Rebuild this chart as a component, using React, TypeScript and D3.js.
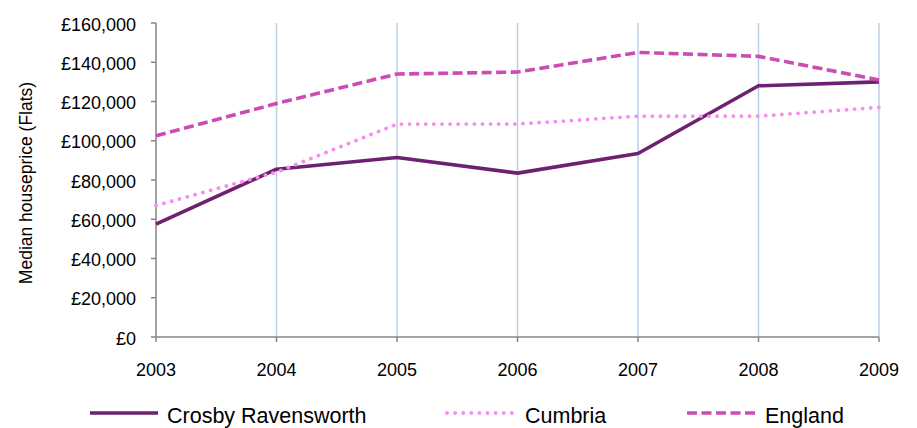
import React from "react";
import * as d3 from "d3";

const years = [2003, 2004, 2005, 2006, 2007, 2008, 2009];
const crosby = [57500, 85500, 91500, 83500, 93500, 128000, 130000];
const cumbria = [67000, 84000, 108500, 108500, 112500, 112500, 117000];
const england = [102500, 119000, 134000, 135000, 145000, 143000, 131000];
const yTicks = [0, 20000, 40000, 60000, 80000, 100000, 120000, 140000, 160000];

const series = [
  { name: "Crosby Ravensworth", values: crosby, color: "#6e2170", dash: "", cap: "butt", width: 3.6 },
  { name: "Cumbria", values: cumbria, color: "#f58ef0", dash: "0.1,8", cap: "round", width: 3.8 },
  { name: "England", values: england, color: "#cc4cb5", dash: "10,4.5", cap: "butt", width: 3.6 },
];

const W = 917;
const H = 428;
const left = 156;
const right = 879;
const top = 23;
const bottom = 337;

export default function App() {
  const x = d3.scaleLinear().domain([2003, 2009]).range([left, right]);
  const y = d3.scaleLinear().domain([0, 160000]).range([bottom, top]);
  const fmt = (v: number) => "£" + d3.format(",")(v);
  const line = (vals: number[]) =>
    d3.line<number>().x((_, i) => x(years[i])).y((d) => y(d))(vals) || "";
  const legendX = [90, 447, 687];
  const legendLen = [68, 68, 70];
  const legendText = [167, 525, 765];
  const font = "Liberation Sans, Arial, sans-serif";
  return (
    <svg width={W} height={H} style={{ position: "absolute", left: 0, top: 0, background: "#fff" }} fontFamily={font}>
      {years.slice(1).map((yr) => (
        <line key={yr} x1={x(yr)} x2={x(yr)} y1={top} y2={bottom} stroke="#b9cde5" strokeWidth={1.5} />
      ))}
      <line x1={left} x2={left} y1={top} y2={bottom} stroke="#868686" strokeWidth={1.5} />
      <line x1={left} x2={right} y1={bottom} y2={bottom} stroke="#868686" strokeWidth={1.5} />
      {yTicks.map((t) => (
        <g key={t}>
          <line x1={left - 5} x2={left} y1={y(t)} y2={y(t)} stroke="#868686" strokeWidth={1.5} />
          <text x={136} y={y(t) + 7.5} textAnchor="end" fontSize={18} fill="#000">
            {fmt(t)}
          </text>
        </g>
      ))}
      {years.map((yr) => (
        <g key={yr}>
          <line x1={x(yr)} x2={x(yr)} y1={bottom} y2={bottom + 5} stroke="#868686" strokeWidth={1.5} />
          <text x={x(yr)} y={376} textAnchor="middle" fontSize={18} fill="#000">
            {yr}
          </text>
        </g>
      ))}
      <text transform={`translate(32,183) rotate(-90)`} textAnchor="middle" fontSize={17.5} fill="#000">
        Median houseprice (Flats)
      </text>
      {series.map((s) => (
        <path
          key={s.name}
          d={line(s.values)}
          fill="none"
          stroke={s.color}
          strokeWidth={s.width}
          strokeDasharray={s.dash || undefined}
          strokeLinecap={s.cap as any}
          strokeLinejoin="round"
        />
      ))}
      {series.map((s, i) => (
        <g key={s.name}>
          <line
            x1={legendX[i]}
            x2={legendX[i] + legendLen[i]}
            y1={413}
            y2={413}
            stroke={s.color}
            strokeWidth={s.width}
            strokeDasharray={s.dash || undefined}
            strokeLinecap={s.cap as any}
          />
          <text x={legendText[i]} y={423} fontSize={21.5} fill="#000">
            {s.name}
          </text>
        </g>
      ))}
    </svg>
  );
}
